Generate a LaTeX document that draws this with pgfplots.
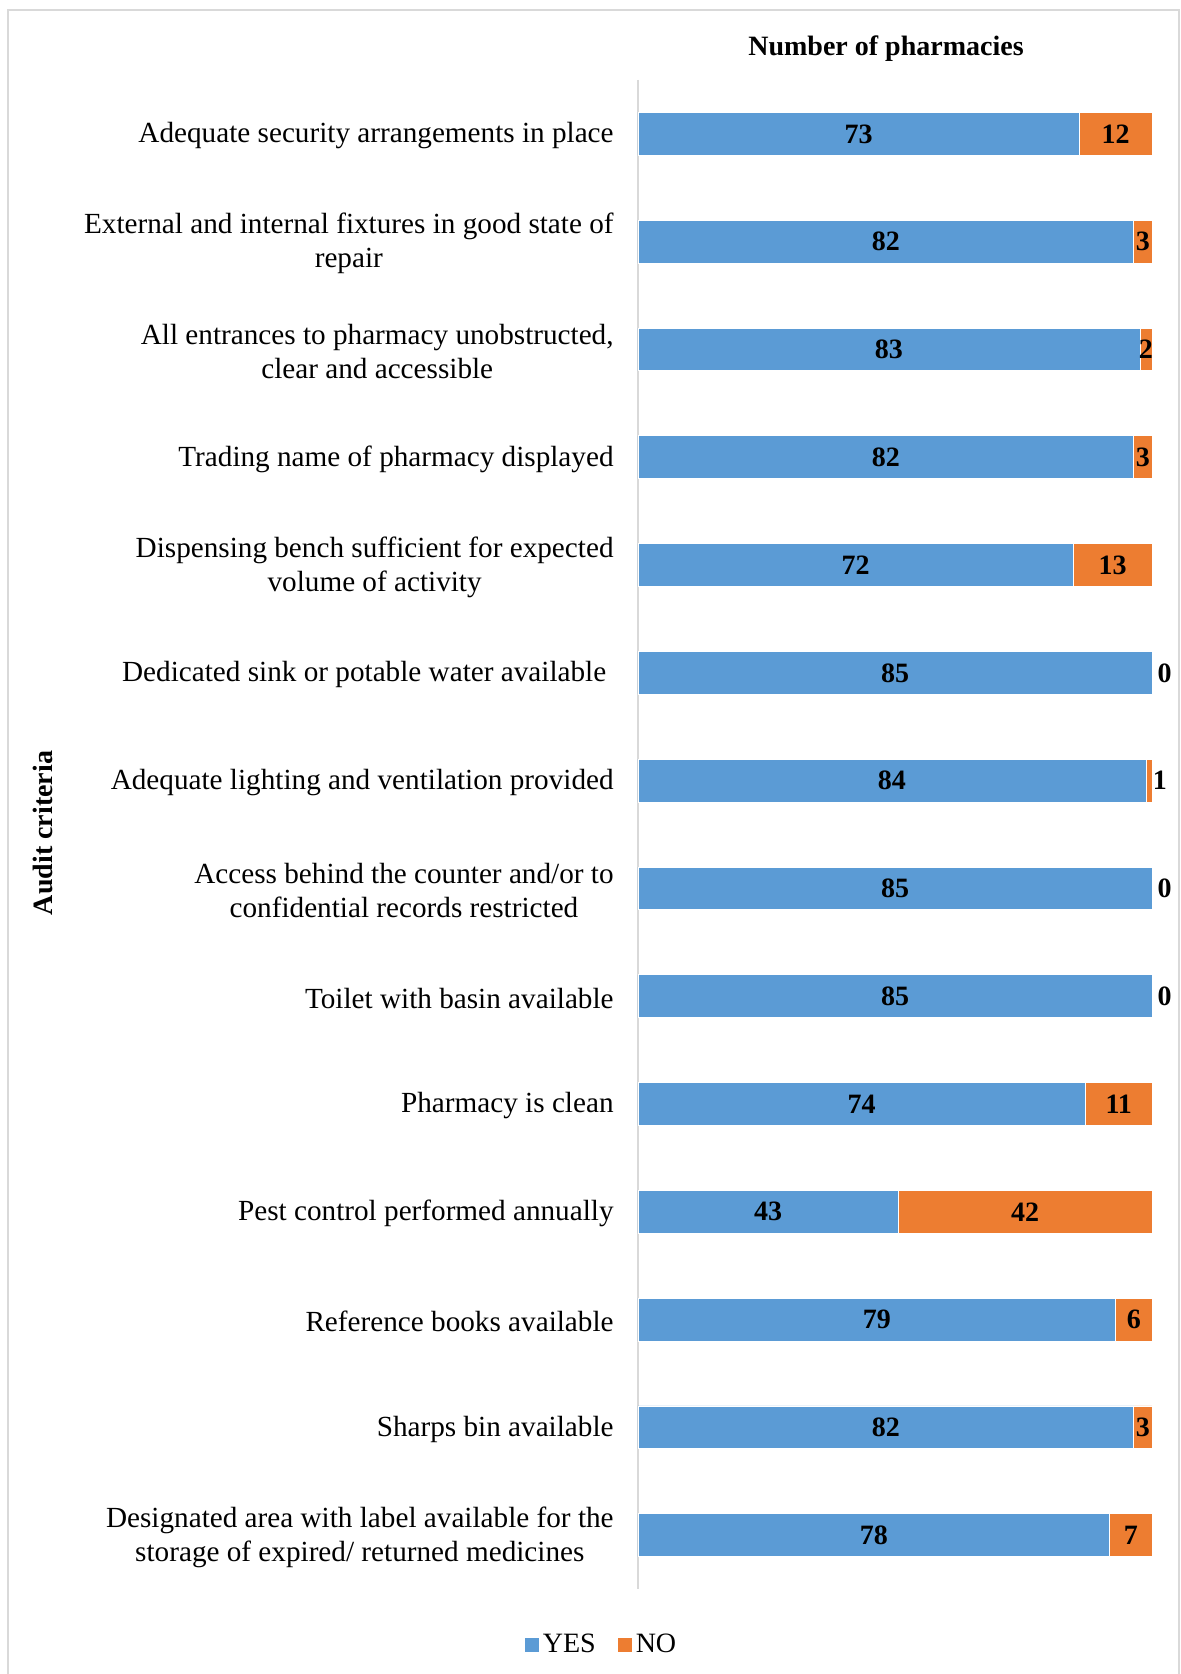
\documentclass[border=0pt]{standalone}
\usepackage{fontspec}
\setmainfont{Liberation Serif}
\usepackage{pgfplots}
\pgfplotsset{compat=1.18}
\definecolor{cyes}{HTML}{5B9BD5}
\definecolor{cno}{HTML}{ED7D31}
\definecolor{axgray}{HTML}{D9D9D9}
\newcommand\f{\fontsize{14}{17}\selectfont}
\newcommand\ft{\fontsize{14.6}{17}\selectfont}
\begin{document}
\begin{tikzpicture}[x=1pt,y=1pt]
\useasboundingbox (-319,-42.5) rectangle (271.5,794.5);
\draw[axgray, line width=1pt] (-315,-60) -- (-315,789.5) -- (270.5,789.5) -- (270.5,-60);
\begin{axis}[
  at={(0,0)}, anchor=south west,
  scale only axis, width=257pt, height=754.5pt,
  xbar stacked, bar width=21.4pt,
  xmin=0, xmax=85, ymin=-0.5, ymax=13.5, y dir=reverse,
  axis x line=none, axis y line*=left,
  y axis line style={draw=axgray, line width=1pt},
  xtick=\empty,
  ytick={0,...,13},
  yticklabels={
    Adequate security arrangements in place,
    External and internal fixtures in good state of\\repair,
    {All entrances to pharmacy unobstructed,\\clear and accessible},
    Trading name of pharmacy displayed,
    Dispensing bench sufficient for expected\\volume of activity,
    Dedicated sink or potable water available\kern3.7pt,
    Adequate lighting and ventilation provided,
    Access behind the counter and/or to\\confidential records restricted,
    Toilet with basin available,
    Pharmacy is clean,
    Pest control performed annually,
    Reference books available,
    Sharps bin available,
    Designated area with label available for the\\storage of expired/ returned medicines
  },
  major tick length=0pt,
  yticklabel style={font=\ft, align=center, inner sep=0pt, xshift=-12pt, yshift=-1pt},
  legend style={at={(-0.069,-0.037)}, anchor=center, draw=none, fill=none,
    legend columns=2, font=\f,
    /tikz/every even column/.append style={column sep=9pt}},
  legend image code/.code={\fill[#1, draw=none] (0pt,-3.5pt) rectangle (7pt,3.5pt);},
  clip=false,
]
\addplot[fill=cyes, draw=white, line width=0.4pt] coordinates {
(73,0) (82,1) (83,2) (82,3) (72,4) (85,5) (84,6) (85,7) (85,8) (74,9) (43,10) (79,11) (82,12) (78,13)};
\addplot[fill=cno, draw=white, line width=0.4pt] coordinates {
(12,0) (3,1) (2,2) (3,3) (13,4) (0,5) (1,6) (0,7) (0,8) (11,9) (42,10) (6,11) (3,12) (7,13)};
\legend{YES,NO}
\end{axis}
\begin{axis}[
  at={(0,0)}, anchor=south west,
  scale only axis, width=257pt, height=754.5pt,
  xmin=0, xmax=85, ymin=-0.5, ymax=13.5, y dir=reverse,
  hide axis, clip=false,
]
\addplot[only marks, mark=none, point meta=explicit symbolic, nodes near coords,
  nodes near coords style={font=\f\bfseries, anchor=center, inner sep=0pt}]
  table[meta=lab] {
x y lab
36.5 0 73
79 0 12
41 1 82
83.5 1 3
41.5 2 83
84 2 2
41 3 82
83.5 3 3
36 4 72
78.5 4 13
42.5 5 85
87.1 5 0
42 6 84
86.3 6 1
42.5 7 85
87.1 7 0
42.5 8 85
87.1 8 0
37 9 74
79.5 9 11
21.5 10 43
64 10 42
39.5 11 79
82 11 6
41 12 82
83.5 12 3
39 13 78
81.5 13 7
};
\end{axis}
\node[font=\f\bfseries] at (124,770.4) {Number of pharmacies};
\node[font=\f\bfseries, rotate=90] at (-297.5,378) {Audit criteria};
\end{tikzpicture}
\end{document}
